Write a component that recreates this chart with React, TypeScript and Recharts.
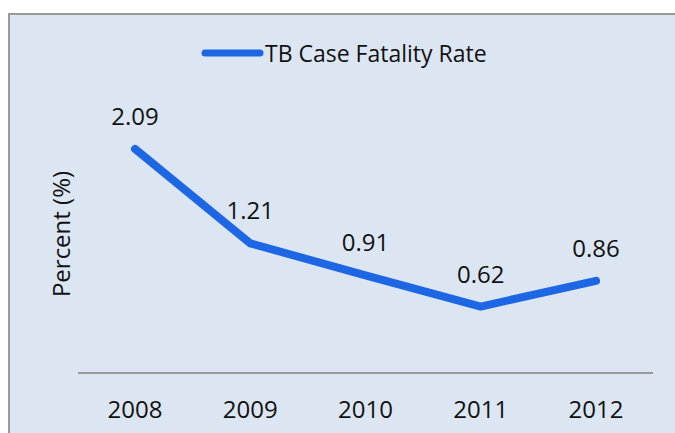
import { LineChart, Line, XAxis, YAxis, LabelList } from "recharts";

const years = ["2008", "2009", "2010", "2011", "2012"];
const fatalityRate = [2.09, 1.21, 0.91, 0.62, 0.86];

const data = years.map((year, i) => ({ year, rate: fatalityRate[i] }));

const LINE_COLOR = "#1d66e4";
const FONT = "'Open Sans', 'Noto Sans', sans-serif";

export default function App() {
  return (
    <div style={{ position: "absolute", left: 0, top: 0, width: 675, height: 433, background: "#fff", overflow: "hidden" }}>
      {/* panel */}
      <div
        style={{
          position: "absolute",
          left: 8,
          top: 13,
          width: 700,
          height: 460,
          background: "#dce6f2",
          border: "2px solid #9a9a9a",
          boxSizing: "border-box",
        }}
      />
      {/* legend */}
      <div
        style={{
          position: "absolute",
          left: 200,
          top: 37,
          display: "flex",
          alignItems: "center",
          fontFamily: FONT,
          fontSize: 23,
          color: "#111",
        }}
      >
        <svg width={64} height={12} style={{ marginRight: 1 }}>
          <line x1={5} y1={6} x2={60} y2={6} stroke={LINE_COLOR} strokeWidth={7} strokeLinecap="round" />
        </svg>
        <span>TB Case Fatality Rate</span>
      </div>
      <div style={{ position: "absolute", left: 0, top: 0 }}>
        <LineChart width={675} height={433} data={data} margin={{ top: 105, right: 22, bottom: 20, left: 8 }}>
          <XAxis
            dataKey="year"
            padding={{ left: 57, right: 57 }}
            axisLine={{ stroke: "#999", strokeWidth: 2 }}
            tickLine={false}
            tickMargin={22}
            height={40}
            tick={{ fill: "#111", fontSize: 24, fontFamily: FONT }}
          />
          <YAxis
            domain={[0, 2.5]}
            width={70}
            tick={false}
            axisLine={false}
            tickLine={false}
            label={{
              value: "Percent (%)",
              angle: -90,
              position: "center",
              dx: 18,
              dy: -5,
              style: { fill: "#111", fontSize: 24, fontFamily: FONT },
            }}
          />
          <Line
            type="linear"
            dataKey="rate"
            stroke={LINE_COLOR}
            strokeWidth={8}
            strokeLinecap="round"
            strokeLinejoin="round"
            dot={false}
            activeDot={false}
            isAnimationActive={false}
          >
            <LabelList
              dataKey="rate"
              position="top"
              offset={24}
              formatter={(v: number) => v.toFixed(2)}
              style={{ fill: "#111", fontSize: 24, fontFamily: FONT }}
            />
          </Line>
        </LineChart>
      </div>
    </div>
  );
}
